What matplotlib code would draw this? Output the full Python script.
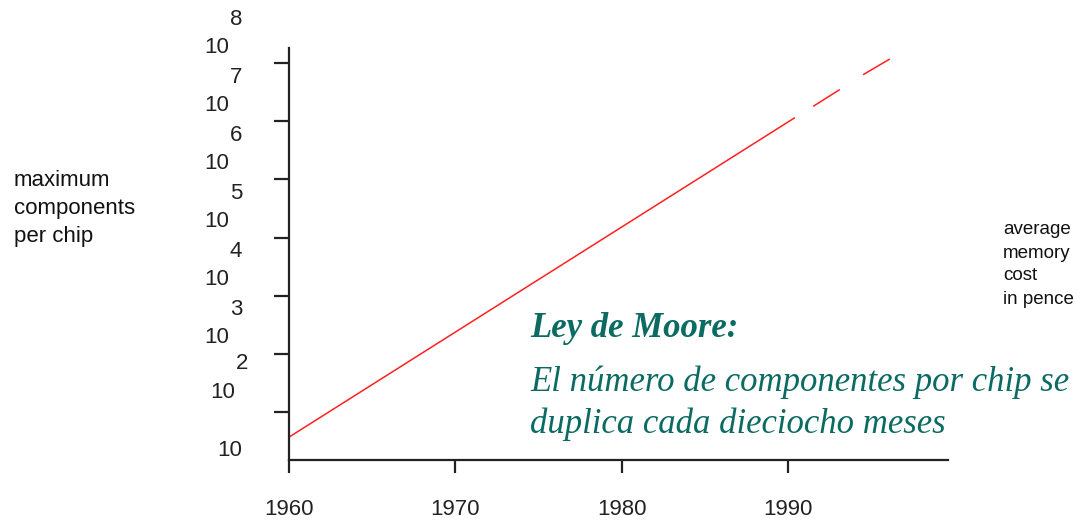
import matplotlib
matplotlib.use("Agg")
import matplotlib.pyplot as plt
from matplotlib.transforms import Bbox, TransformedBbox

# ---- data ----
seg1_years = [1960.0, 1990.4]
seg1_values = [37, 1.15e7]
seg2_years = [1991.5, 1993.1]
seg2_values = [1.8e7, 3.5e7]
seg3_years = [1994.5, 1996.1]
seg3_values = [6.3e7, 1.17e8]
x_ticks = [1960, 1970, 1980, 1990]
y_exponents = [2, 3, 4, 5, 6, 7, 8]
label_exponents = [1, 2, 3, 4, 5, 6, 7, 8]

DPI = 100
fig = plt.figure(figsize=(10.84, 5.20), dpi=DPI)
ax = fig.add_axes([289/1084, 60/520, (948-289)/1084, (460-48)/520])

sans = ["Liberation Sans", "DejaVu Sans"]
serif = ["Liberation Serif", "DejaVu Serif"]
red = "#ff2020"
teal = "#0b6b63"
ink = "#222222"
TICKFS = 16

for xs, ys in [(seg1_years, seg1_values), (seg2_years, seg2_values), (seg3_years, seg3_values)]:
    ax.plot(xs, ys, color=red, lw=1.1, solid_capstyle="butt")

ax.set_yscale("log")
ax.set_xlim(1960, 1999.6)
ax.set_ylim(10**1.175, 10**8.258)

for s in ["top", "right"]:
    ax.spines[s].set_visible(False)
for s in ["left", "bottom"]:
    ax.spines[s].set_linewidth(1.6)
    ax.spines[s].set_color(ink)

ax.set_xticks(x_ticks)
ax.set_xticklabels([str(t) for t in x_ticks], fontsize=TICKFS, family=sans, color=ink)
ax.tick_params(axis="x", direction="out", length=9, width=1.6, color=ink, pad=19)
ax.set_yticks([10**e for e in y_exponents])
ax.yaxis.set_minor_locator(matplotlib.ticker.NullLocator())
ax.set_yticklabels([])
ax.tick_params(axis="y", direction="out", length=11, width=1.6, color=ink)

ytr = ax.get_yaxis_transform()
for e in label_exponents:
    dx = -60 if e > 2 else -54
    if e == 1:
        dx = -47
    ax.annotate("10", xy=(0, 10**e), xycoords=ytr, xytext=(dx, 16 if e > 2 else 20),
                textcoords="offset pixels", ha="right", va="center",
                fontsize=TICKFS, family=sans, color=ink, annotation_clip=False)
    if e > 1:
        ax.annotate(str(e), xy=(0, 10**e), xycoords=ytr, xytext=(dx + 1, 44 if e > 2 else 49),
                    textcoords="offset pixels", ha="left", va="center",
                    fontsize=TICKFS, family=sans, color=ink, annotation_clip=False)

# left axis title (clipped as in reference)
for i, line in enumerate(["maximum", "components", "per chip"]):
    t = fig.text(14/1084, 1 - (180 + i*28.5)/520, line, ha="left", va="center",
                 fontsize=16, family=sans, color="#111111")
    t.set_clip_box(TransformedBbox(Bbox([[0, 0], [135/1084, 1]]), fig.transFigure))
    t.set_clip_on(True)

# right label
for i, line in enumerate(["average", "memory", "cost", "in pence"]):
    fig.text(1003/1084, 1 - (230 + i*23)/520, line, ha="left", va="center",
             fontsize=13.5, family=sans, color="#111111")

fig.text(530/1084, 1 - 337/520, "Ley de Moore:", ha="left", va="baseline",
         fontsize=25, family=serif, style="italic", weight="bold", color=teal)
fig.text(530/1084, 1 - 391/520, "El número de componentes por chip se", ha="left",
         va="baseline", fontsize=25, family=serif, style="italic", color=teal)
fig.text(530/1084, 1 - 433/520, "duplica cada dieciocho meses", ha="left",
         va="baseline", fontsize=25, family=serif, style="italic", color=teal)

fig.savefig("out.png", dpi=DPI, facecolor="white")
